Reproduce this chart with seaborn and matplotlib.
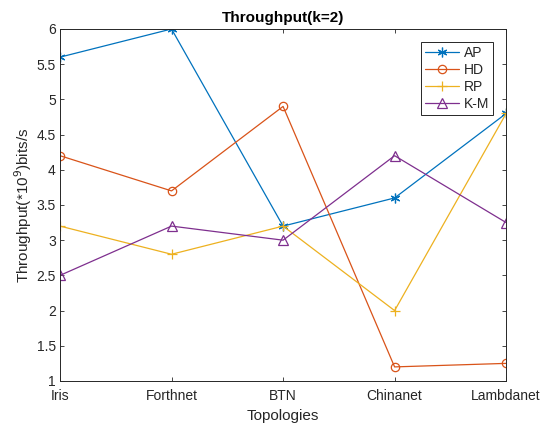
import seaborn as sns
import matplotlib.pyplot as plt
import pandas as pd

sns.set_style("ticks")
plt.rcParams['font.family'] = ['Liberation Sans', 'DejaVu Sans']

topologies = ["Iris", "Forthnet", "BTN", "Chinanet", "Lambdanet"]
ap = [5.6, 6.0, 3.2, 3.6, 4.8]
hd = [4.2, 3.7, 4.9, 1.2, 1.25]
rp = [3.2, 2.8, 3.2, 2.0, 4.8]
km = [2.5, 3.2, 3.0, 4.2, 3.25]

series = {"AP": ap, "HD": hd, "RP": rp, "K-M": km}
rows = []
for name, vals in series.items():
    for i, v in enumerate(vals):
        rows.append({"pos": i, "topology": topologies[i], "value": v, "method": name})
data = pd.DataFrame(rows)

colors = {"AP": "#0072BD", "HD": "#D95319", "RP": "#EDB120", "K-M": "#7E2F8E"}
markers = {"AP": (6, 2, 0), "HD": "o", "RP": "+", "K-M": "^"}
msizes = {"AP": 7, "HD": 6, "RP": 7, "K-M": 6.5}

fig = plt.figure(figsize=(5.47, 4.30), dpi=100)
ax = fig.add_axes([0.1097, 0.114, 0.8156, 0.8186])

for name in series:
    sns.lineplot(data=data[data["method"] == name], x="pos", y="value",
                 color=colors[name], marker=markers[name], markersize=msizes[name],
                 markerfacecolor="none", markeredgecolor=colors[name],
                 markeredgewidth=0.9, linewidth=0.9, label=name, ax=ax)

ax.set_xlim(0, 4)
ax.set_ylim(1, 6)
ax.set_xticks(range(len(topologies)))
ax.set_xticklabels(topologies)
ax.set_yticks([1, 1.5, 2, 2.5, 3, 3.5, 4, 4.5, 5, 5.5, 6])
ax.set_yticklabels(["1", "1.5", "2", "2.5", "3", "3.5", "4", "4.5", "5", "5.5", "6"])
ax.tick_params(direction="in", top=True, right=True, length=3, width=0.6,
               labelsize=10, colors="#262626", pad=3)
ax.tick_params(axis="x", pad=6)
for s in ax.spines.values():
    s.set_visible(True)
    s.set_color("#262626")
    s.set_linewidth(0.7)

ax.set_xlabel("Topologies", fontsize=11, color="#262626", labelpad=4)
ax.set_ylabel("Throughput(*10$^9$)bits/s", fontsize=11, color="#262626", labelpad=2)
ax.set_title("Throughput(k=2)", fontsize=11, fontweight="bold", color="#000000", pad=5)

leg = ax.legend(loc="upper right", bbox_to_anchor=(0.971, 0.963), fontsize=10,
                frameon=True, fancybox=False, framealpha=1, edgecolor="#262626",
                handlelength=2.5, borderpad=0.3, labelspacing=0.2, handletextpad=0.3,
                borderaxespad=0)
leg.get_frame().set_linewidth(0.7)

fig.savefig("out.png", dpi=100)
